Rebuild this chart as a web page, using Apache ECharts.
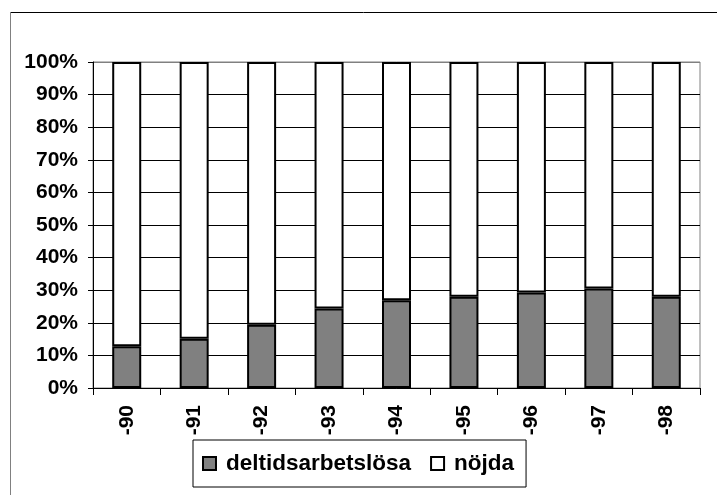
<!DOCTYPE html>
<html>
<head>
<meta charset="utf-8">
<script src="https://cdn.jsdelivr.net/npm/echarts@6/dist/echarts.min.js"></script>
<style>
  html, body { margin: 0; padding: 0; background: #fff; }
  #chart { width: 717px; height: 495px; }
</style>
</head>
<body>
<div id="chart"></div>
<script>
// år
var years = ["-90", "-91", "-92", "-93", "-94", "-95", "-96", "-97", "-98"];
// andel i procent
var deltid = [12.8, 15.1, 19.4, 24.4, 26.9, 28.0, 29.3, 30.5, 28.0];
var nojda = [87.2, 84.9, 80.6, 75.6, 73.1, 72.0, 70.7, 69.5, 72.0];

var font = "Liberation Sans, Arial, sans-serif";

var chart = echarts.init(document.getElementById("chart"));
var option = {
  backgroundColor: "#fff",
  animation: false,
  graphic: [
    // ram runt diagrammet
    { type: "line", shape: { x1: 10, y1: 12.5, x2: 717, y2: 12.5 }, style: { stroke: "#000", lineWidth: 1 } },
    { type: "line", shape: { x1: 10.5, y1: 12, x2: 10.5, y2: 495 }, style: { stroke: "#808080", lineWidth: 1 } }
  ],
  grid: {
    left: 93,
    right: 17,
    top: 62,
    bottom: 107,
    show: true,
    borderColor: "#808080",
    borderWidth: 1
  },
  legend: {
    top: 440,
    left: 193,
    data: ["deltidsarbetslösa", "nöjda"],
    icon: "rect",
    itemWidth: 13,
    itemHeight: 13,
    itemGap: 19,
    borderColor: "#000",
    borderWidth: 1,
    padding: [12, 12, 12, 9],
    textStyle: { fontFamily: font, fontWeight: "bold", fontSize: 22.5, color: "#000", padding: [0, 0, 0, 5] }
  },
  xAxis: {
    type: "category",
    data: years,
    axisLine: { lineStyle: { color: "#000", width: 1 } },
    axisTick: { show: true, length: 7, alignWithLabel: false, lineStyle: { color: "#000" } },
    axisLabel: {
      rotate: 90,
      margin: 17,
      fontFamily: font,
      fontWeight: "bold",
      fontSize: 21,
      color: "#000"
    }
  },
  yAxis: {
    type: "value",
    min: 0,
    max: 100,
    interval: 10,
    axisLine: { show: true, lineStyle: { color: "#000", width: 1 } },
    axisTick: { show: true, length: 5, lineStyle: { color: "#000" } },
    splitLine: {
      show: true,
      lineStyle: {
        color: ["#000", "#000", "#000", "#000", "#000", "#000", "#000", "#000", "#000", "#000", "#808080"],
        width: 1
      }
    },
    axisLabel: {
      formatter: "{value}%",
      margin: 15,
      fontFamily: font,
      fontWeight: "bold",
      fontSize: 21,
      color: "#000"
    }
  },
  series: [
    {
      name: "deltidsarbetslösa",
      type: "bar",
      stack: "a",
      barWidth: 29,
      data: deltid,
      itemStyle: { color: "#808080", borderColor: "#000", borderWidth: 2 }
    },
    {
      name: "nöjda",
      type: "bar",
      stack: "a",
      barWidth: 29,
      data: nojda,
      itemStyle: { color: "#fff", borderColor: "#000", borderWidth: 2 }
    }
  ]
};
chart.setOption(option);
window.addEventListener("resize", function () {
  chart.resize();
});
</script>
</body>
</html>
